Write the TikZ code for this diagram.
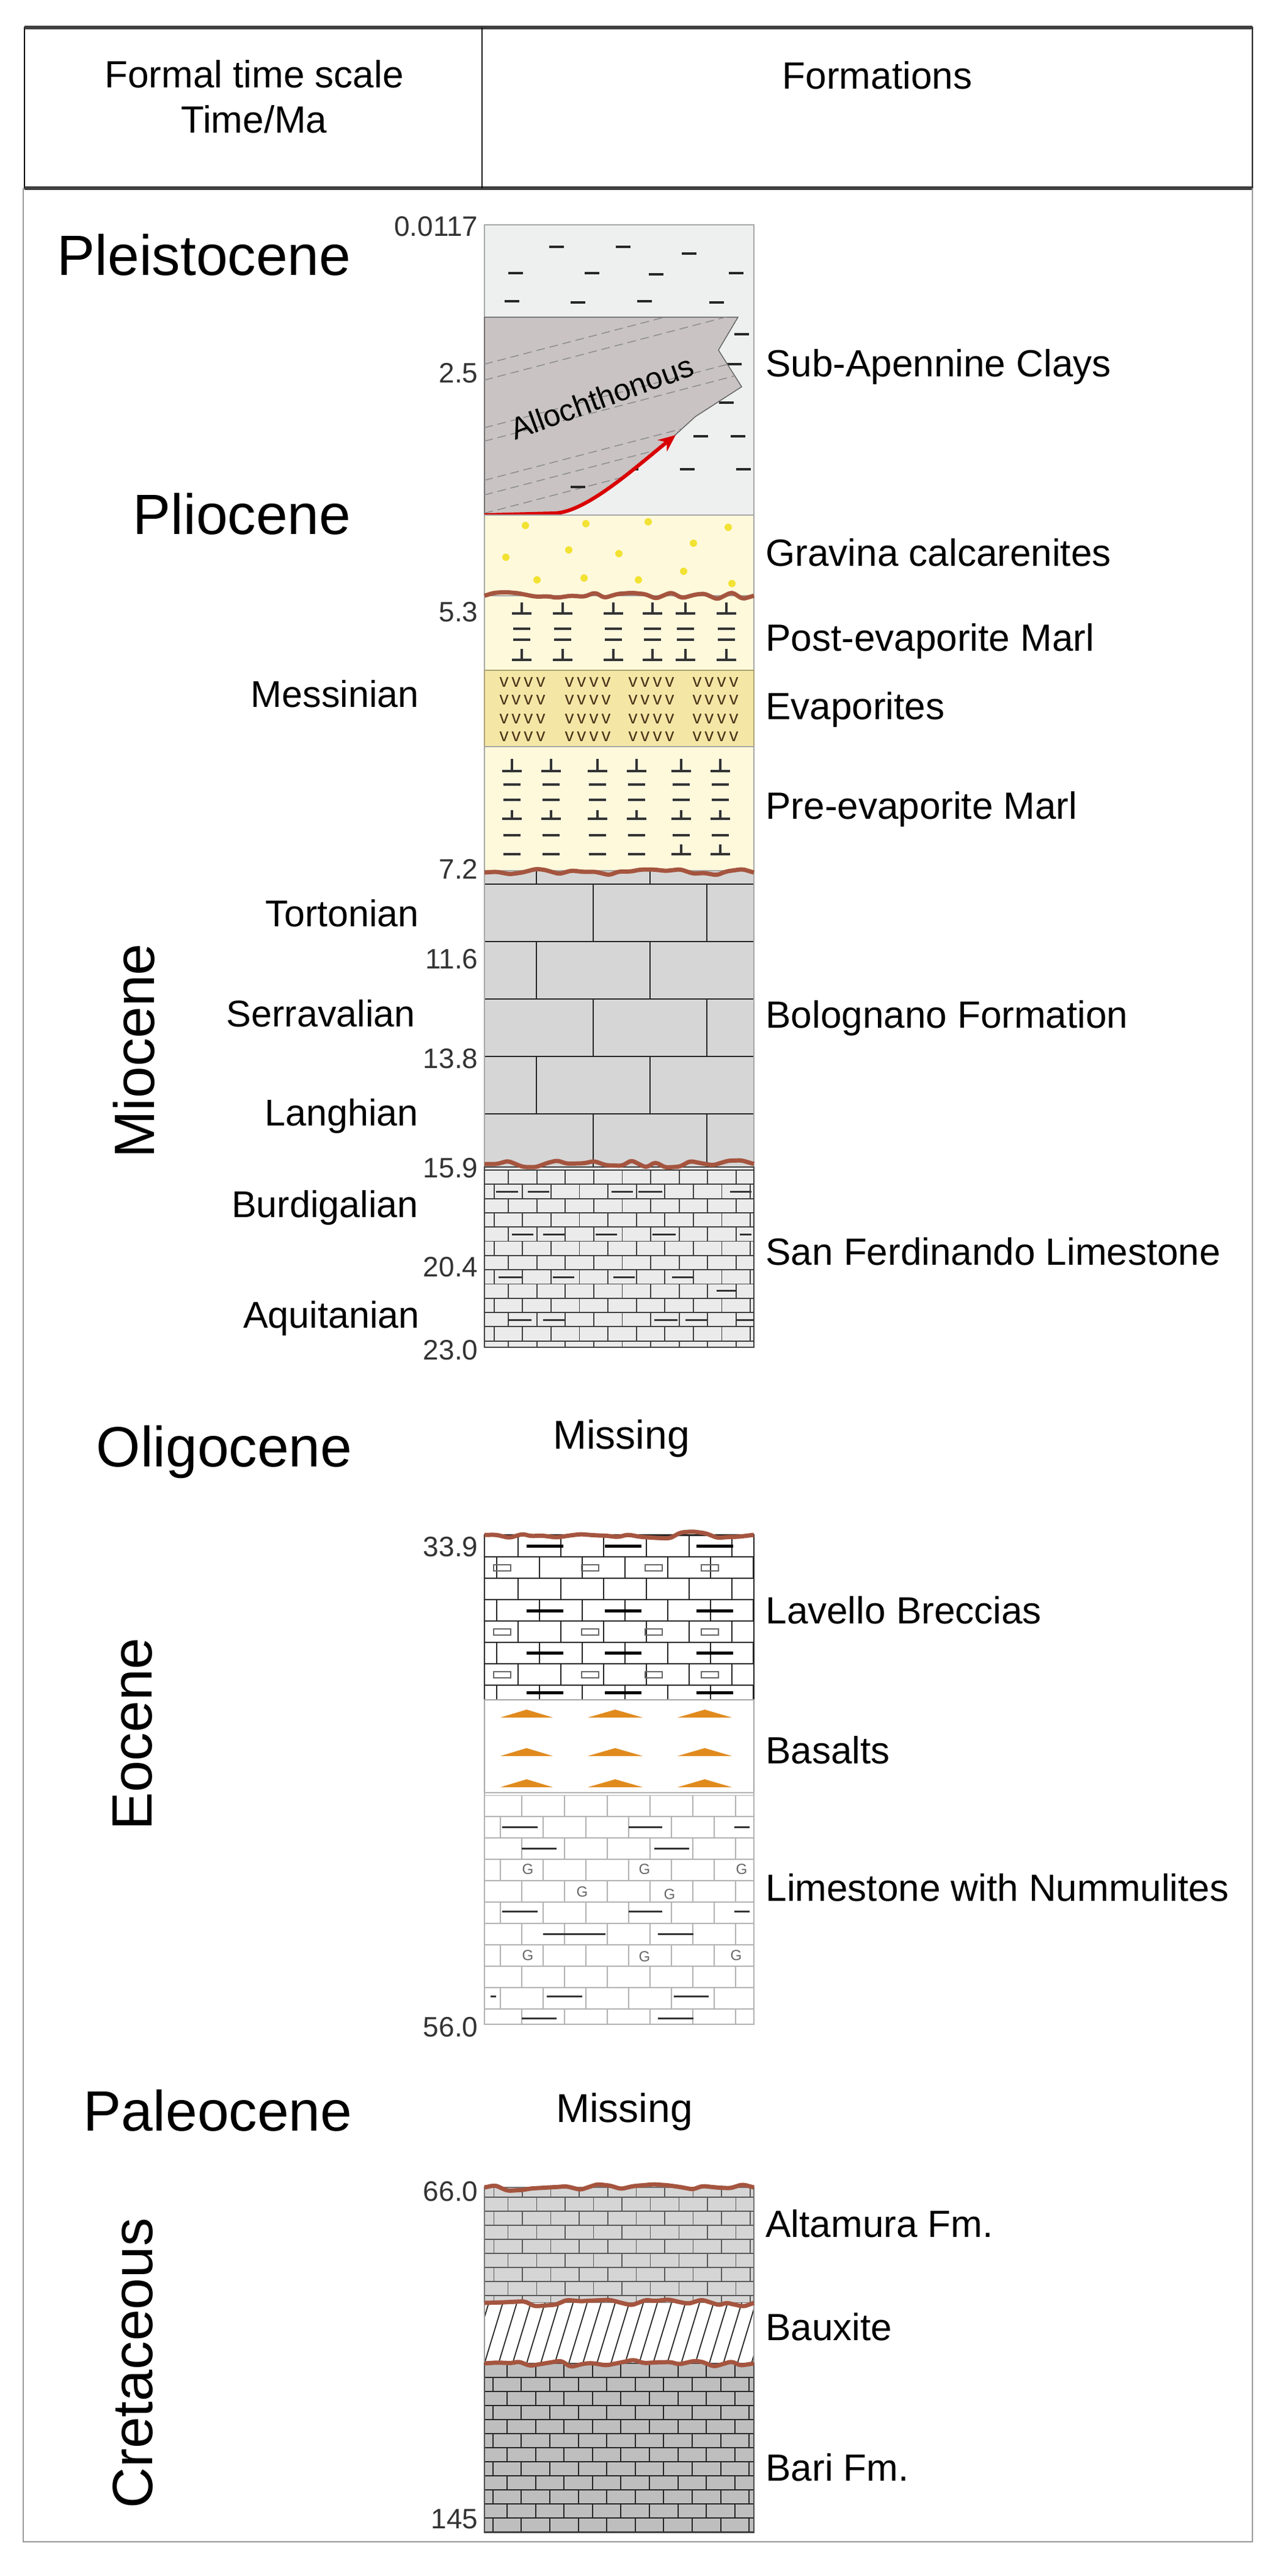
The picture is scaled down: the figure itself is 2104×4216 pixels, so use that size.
\documentclass[tikz,border=0pt]{standalone}
\usepackage{fontspec}
\setmainfont{Liberation Sans}
\usetikzlibrary{decorations.pathmorphing,arrows.meta}
\definecolor{clay}{HTML}{EEF0F0}
\definecolor{allo}{HTML}{C9C3C3}
\definecolor{marl}{HTML}{FFF9DC}
\definecolor{evap}{HTML}{F4E7A6}
\definecolor{bolo}{HTML}{D6D6D6}
\definecolor{sanf}{HTML}{EBEBEB}
\definecolor{alta}{HTML}{D5D5D5}
\definecolor{bari}{HTML}{BEBEBE}
\definecolor{unconf}{HTML}{A5553F}
\definecolor{basalt}{HTML}{E08A1E}
\definecolor{dotc}{HTML}{F2E233}
\newcommand\brk[9]{%
 \begin{scope}
  \clip (#1,#2) rectangle (#3,#4);
  \pgfmathtruncatemacro\nr{ceil((#4-#5)/#6)}
  \foreach \r in {0,...,\nr}{
    \pgfmathsetmacro\yy{#5+\r*#6}
    \pgfmathsetmacro\yb{\yy+#6}
    \draw[#9] (#1,\yy) -- (#3,\yy);
    \pgfmathsetmacro\xo{#8+mod(\r,2)*#7/2-#7}
    \foreach \c in {0,...,12}{
      \pgfmathsetmacro\xx{\xo+\c*#7}
      \draw[#9] (\xx,\yy) -- (\xx,\yb);
    }
  }
 \end{scope}}
\newcommand\tsym[3]{\draw[symb] (#1-16,#2) -- (#1+16,#2) (#1,#2) -- (#1,#2-#3);}
\begin{document}
\begin{tikzpicture}[x=1pt,y=-1pt,
  hdr/.style={font=\fontsize{62}{74}\selectfont,align=center},
  era/.style={font=\fontsize{93}{100}\selectfont},
  stage/.style={font=\fontsize{61}{70}\selectfont,anchor=east},
  age/.style={font=\fontsize{46}{50}\selectfont,anchor=east,text=black!80},
  fm/.style={font=\fontsize{62}{70}\selectfont,anchor=west},
  lay/.style={draw=black!35,line width=1.2pt},
  wavy/.style={draw=unconf,line width=7pt,decorate,decoration={random steps,segment length=20pt,amplitude=6pt},rounded corners=5pt},
  dsh/.style={line width=3.5pt,black!85},
  symb/.style={line width=3.5pt,black!80},
  bar/.style={line width=5pt,black}]
\pgfmathsetseed{7}
\useasboundingbox[fill=white] (0,0) rectangle (2104,4216);
% header
\draw[line width=2pt] (40,45) rectangle (2050,308);
\draw[line width=6pt,black!75] (40,45) -- (2050,45) (40,308) -- (2050,308);
\draw[line width=2pt] (789,45) -- (789,308);
\node[hdr] (h1) at (416,158) {Formal time scale\\Time/Ma};
\node[hdr] (h2) at (1436,123) {Formations};
% body frame
\draw[black!40,line width=2pt] (38,308) -- (38,4160) -- (2050,4160) -- (2050,308);
% ---- Sub-Apennine clays
\fill[clay,lay] (793,368) rectangle (1234,843);
\foreach \x/\y in {911/404,1020/404,1128/415,844/447,969/447,1074/449,1205/447,838/493,946/495,1055/493,1173/495,1214/547,1202/596,1189/659,1147/714,1208/714,1125/768,1217/768,1033/768}
  \draw[dsh] (\x-12,\y) -- (\x+12,\y);
\fill[allo,draw=black!60,line width=1.5pt] (793,519) -- (1208,519) -- (1176,573) -- (1214,633) -- (1138,682) -- (1103,714)
  .. controls (1040,760) and (960,838) .. (908,840) -- (793,843) -- cycle;
\begin{scope}
\clip (793,519) -- (1208,519) -- (1176,573) -- (1214,633) -- (1138,682) -- (1103,714)
  .. controls (1040,760) and (960,838) .. (908,840) -- (793,843) -- cycle;
\foreach \y in {596,622,700,722,786,810,840}
  \draw[black!45,line width=1.5pt,dash pattern=on 14pt off 8pt] (793,\y) -- (1234,\y-115);
\draw[dsh] (934,797) -- (958,797);
\end{scope}
\node[font=\fontsize{50}{55}\selectfont,rotate=20] (allo) at (985,650) {Allochthonous};
\draw[red!85!black,line width=6pt,-{Stealth[length=28pt,width=24pt]}] (793,843) -- (908,840) .. controls (960,838) and (1040,765) .. (1106,712);
% ---- Gravina
\fill[marl,lay] (793,843) rectangle (1234,975);
\foreach \x/\y in {860/860,959/857,1061/854,1192/863,828/912,931/900,1013/906,1135/889,879/949,956/946,1045/949,1119/935,1198/955}
  \fill[dotc] (\x,\y) circle (6);
% ---- Post-evaporite marl
\fill[marl,lay] (793,975) rectangle (1234,1097);
\foreach \x in {854,921,1004,1068,1122,1189}{
  \tsym{\x}{1004}{18}
  \draw[symb] (\x-14,1029) -- (\x+14,1029) (\x-14,1047) -- (\x+14,1047);
  \tsym{\x}{1080}{18}
}
% ---- Evaporites
\fill[evap,draw=black!30!evap,line width=1.5pt] (793,1097) rectangle (1234,1222);
\foreach \y in {1117,1146,1177,1206}
  \foreach \x in {855,962,1066,1171}
    \node[font=\fontsize{30}{30}\selectfont,text=black!60!brown,inner sep=0] at (\x,\y) {v\,v\,v\,v};
% ---- Pre-evaporite marl
\fill[marl,lay] (793,1222) rectangle (1234,1425);
\foreach \x in {838,902,978,1042,1115,1179}{
  \tsym{\x}{1262}{20}
  \draw[symb] (\x-14,1284) -- (\x+14,1284) (\x-14,1309) -- (\x+14,1309);
  \tsym{\x}{1340}{14}
  \draw[symb] (\x-14,1367) -- (\x+14,1367);
}
\foreach \x in {838,902,978,1042}{\draw[symb] (\x-14,1398) -- (\x+14,1398);}
\foreach \x in {1115,1179}{\tsym{\x}{1398}{16}}
% ---- Bolognano
\fill[bolo] (793,1425) rectangle (1234,1910);
\brk{793}{1425}{1234}{1910}{1353}{94}{186}{878}{line width=2.5pt,black!85}
\draw[lay] (793,1425) rectangle (1234,1910);
\draw[wavy] (793,1428) -- (1234,1428);
% ---- San Ferdinando
\fill[sanf] (793,1910) rectangle (1234,2205);
\brk{793}{1910}{1234}{2205}{1915}{23.3}{46.6}{832}{line width=1.8pt,black!75}
\draw[black!75,line width=1.8pt] (793,1910) rectangle (1234,2205);
\foreach \a/\b/\y in {812/848/1950,864/899/1950,1001/1036/1950,1045/1084/1950,1195/1230/1950,
  838/873/2020,889/924/2020,975/1010/2020,1068/1106/2020,1211/1230/2020,
  816/854/2090,905/940/2090,1004/1039/2090,1100/1135/2090,1173/1205/2112,
  832/870/2160,889/924/2160,1071/1109/2160,1122/1157/2160,1205/1234/2160}
  \draw[line width=3pt,black!80] (\a,\y) -- (\b,\y);
\draw[wavy] (793,1905) -- (1234,1905);
% ---- Lavello breccias
\fill[white] (793,2512) rectangle (1234,2782);
\brk{793}{2512}{1234}{2782}{2478}{35}{70}{813}{line width=2.5pt,black!85}
\draw[line width=2.5pt,black!85] (793,2512) rectangle (1234,2782);
\foreach \y in {2530,2636,2705,2770}
  \foreach \a/\b in {862/922,990/1050,1140/1200}
    \draw[bar] (\a,\y) -- (\b,\y);
\foreach \y in {2566,2671,2741}
  \foreach \x in {822,966,1070,1162}
    \draw[black!60,line width=1.5pt] (\x-14,\y-5) rectangle (\x+14,\y+5);
\draw[wavy] (793,2512) -- (1234,2512);
% ---- Basalts
\fill[white,lay] (793,2782) rectangle (1234,2934);
\foreach \y in {2811,2874,2925}
  \foreach \a/\b in {819/905,962/1052,1109/1198}
    \fill[basalt] (\a,\y) -- (\b,\y) -- ({(\a+\b)/2},\y-13) -- cycle;
% ---- Limestone with Nummulites
\fill[white] (793,2934) rectangle (1234,3313);
\brk{793}{2938}{1234}{3313}{2938}{35}{70}{854}{line width=1.5pt,black!30}
\draw[black!30,line width=1.5pt] (793,2934) rectangle (1234,3313);
\foreach \a/\b/\y in {822/880/2990,1029/1084/2990,1202/1227/2990,854/911/3025,1071/1128/3025,
  822/880/3128,1029/1084/3128,1202/1227/3128,889/991/3165,1077/1135/3165,
  803/812/3267,895/953/3267,1103/1160/3267,854/911/3303,1077/1135/3303}
  \draw[line width=3pt,black!80] (\a,\y) -- (\b,\y);
\foreach \x/\y in {864/3059,1055/3059,1214/3059,953/3096,1096/3100,864/3200,1055/3202,1205/3200}
  \node[font=\fontsize{24}{24}\selectfont,text=black!60,inner sep=0] at (\x,\y) {G};
% ---- Altamura
\fill[alta] (793,3580) rectangle (1234,3769);
\brk{793}{3580}{1234}{3769}{3573}{23}{46.6}{855}{line width=1.5pt,black!65}
\draw[black!55,line width=1.5pt] (793,3580) rectangle (1234,3769);
% ---- Bauxite
\fill[white] (793,3769) rectangle (1234,3868);
\begin{scope}
\clip (793,3769) rectangle (1234,3868);
\foreach \i in {0,...,22} \draw[line width=1.8pt,black!85] (770+\i*23,3868) -- (800+\i*23,3769);
\end{scope}
\draw[black!40,line width=1.5pt] (793,3769) -- (793,3868) (1234,3769) -- (1234,3868);
% ---- Bari
\fill[bari] (793,3868) rectangle (1234,4145);
\brk{793}{3868}{1234}{4145}{3868}{23}{46.6}{830}{line width=2pt,black!85}
\draw[black!70,line width=1.5pt] (793,3868) rectangle (1234,4145);
\draw[wavy] (793,3580) -- (1234,3580);
\draw[wavy] (793,3769) -- (1234,3769);
\draw[wavy] (793,3868) -- (1234,3868);
\draw[wavy] (793,975) -- (1234,975);
% ---- left labels
\node[era,anchor=east] (ple) at (578,417) {Pleistocene};
\node[era,anchor=east] (pli) at (578,841) {Pliocene};
\node[era,anchor=east] (oli) at (580,2376) {Oligocene};
\node[era,anchor=east] (pal) at (580,3454) {Paleocene};
\node[era,rotate=90] (mio) at (219,1720) {Miocene};
\node[era,rotate=90] (eoc) at (217,2838) {Eocene};
\node[era,rotate=90] (cre) at (217,3868) {Cretaceous};
\node[stage] (s1) at (689,1136) {Messinian};
\node[stage] (s2) at (689,1495) {Tortonian};
\node[stage] (s3) at (683,1659) {Serravalian};
\node[stage] (s4) at (688,1827) {Langhian};
\node[stage] (s5) at (688,1977) {Burdigalian};
\node[stage] (s6) at (690,2158) {Aquitanian};
\foreach \t/\y/\n in {0.0117/371/a1,2.5/611/a2,5.3/1002/a3,7.2/1422/a4,11.6/1570/a5,13.8/1733/a6,15.9/1912/a7,20.4/2074/a8,23.0/2210/a9,33.9/2532/a10,56.0/3318/a11,66.0/3587/a12,145/4123/a13}
  \node[age] (\n) at (786,\y) {\t};
\node[font=\fontsize{66}{70}\selectfont] (m1) at (1017,2354) {Missing};
\node[font=\fontsize{66}{70}\selectfont] (m2) at (1022,3456) {Missing};
% ---- formation labels
\foreach \t/\y/\n in {Sub-Apennine Clays/600/f1,Gravina calcarenites/904/f2,Post-evaporite Marl/1049/f3,Evaporites/1161/f4,Pre-evaporite Marl/1324/f5,Bolognano Formation/1666/f6,San Ferdinando Limestone/2048/f7,Lavello Breccias/2635/f8,Basalts/2864/f9,Limestone with Nummulites/3089/f10,Altamura Fm./3639/f11,Bauxite/3808/f12,Bari Fm./4038/f13}
  \node[fm] (\n) at (1250,\y) {\t};
\end{tikzpicture}
\end{document}
